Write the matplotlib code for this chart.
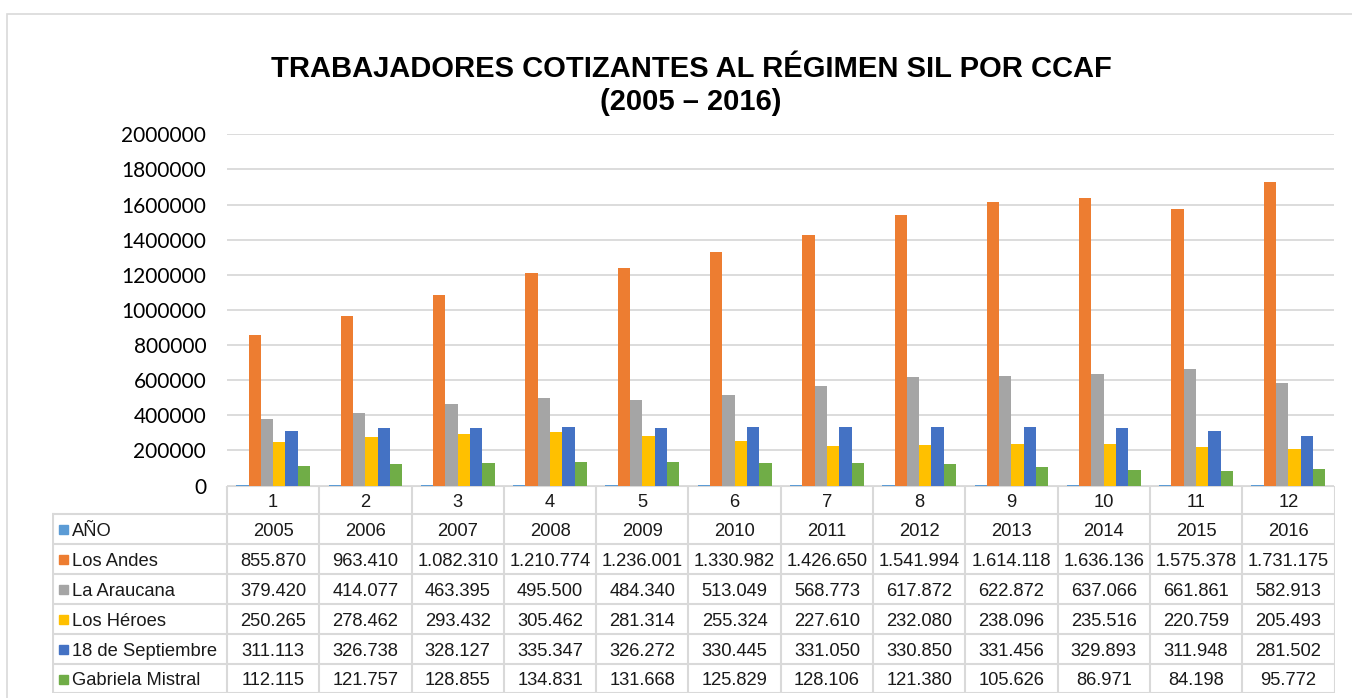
import numpy as np
import matplotlib.pyplot as plt
from matplotlib.patches import Rectangle
from matplotlib.lines import Line2D

categories = [str(i) for i in range(1, 13)]
anio = [2005, 2006, 2007, 2008, 2009, 2010, 2011, 2012, 2013, 2014, 2015, 2016]
los_andes = [855870, 963410, 1082310, 1210774, 1236001, 1330982, 1426650, 1541994, 1614118, 1636136, 1575378, 1731175]
la_araucana = [379420, 414077, 463395, 495500, 484340, 513049, 568773, 617872, 622872, 637066, 661861, 582913]
los_heroes = [250265, 278462, 293432, 305462, 281314, 255324, 227610, 232080, 238096, 235516, 220759, 205493]
septiembre = [311113, 326738, 328127, 335347, 326272, 330445, 331050, 330850, 331456, 329893, 311948, 281502]
gabriela = [112115, 121757, 128855, 134831, 131668, 125829, 128106, 121380, 105626, 86971, 84198, 95772]

series_names = ["AÑO", "Los Andes", "La Araucana", "Los Héroes", "18 de Septiembre", "Gabriela Mistral"]
series_vals = [anio, los_andes, la_araucana, los_heroes, septiembre, gabriela]
colors = ["#5B9BD5", "#ED7D31", "#A5A5A5", "#FFC000", "#4472C4", "#70AD47"]

W, H = 1352, 698
fig = plt.figure(figsize=(W / 100, H / 100), dpi=100)


def fbox(x0, y0, x1, y1):
    # pixel box (top-left origin) -> figure fraction [l, b, w, h]
    return [x0 / W, 1 - y1 / H, (x1 - x0) / W, (y1 - y0) / H]


# outer chart border
fig.add_artist(Rectangle((7 / W, -0.05), 1.1, 1 - 13.5 / H + 0.05, transform=fig.transFigure,
                         fill=False, edgecolor="#d9d9d9", lw=1.2))

fig.text(691 / W, 1 - 69 / H, "TRABAJADORES COTIZANTES AL RÉGIMEN SIL POR CCAF",
         ha="center", va="center", fontsize=21, fontweight="bold", family="Liberation Sans")
fig.text(691 / W, 1 - 102 / H, "(2005 – 2016)",
         ha="center", va="center", fontsize=21, fontweight="bold", family="Liberation Sans")

plot_left, plot_right, plot_top, plot_bottom = 227, 1334.5, 134.3, 485.5
ax = fig.add_axes(fbox(plot_left, plot_top, plot_right, plot_bottom))

n = len(series_names)
x = np.arange(len(categories)) + 0.5
bw = 1 / (n + 1.5)
for i, (vals, c) in enumerate(zip(series_vals, colors)):
    ax.bar(x + (i - (n - 1) / 2) * bw, vals, width=bw, color=c, zorder=2)

ax.set_xlim(0, 12)
ax.set_ylim(0, 2000000)
ax.set_yticks(np.arange(0, 2000001, 200000))
ax.set_yticklabels([str(v) for v in range(0, 2000001, 200000)], family="Lato", fontsize=15)
ax.tick_params(axis="y", length=0, pad=15)
ax.set_xticks([])
ax.grid(axis="y", color="#d9d9d9", lw=1.3, zorder=0)
for s in ax.spines.values():
    s.set_visible(False)

# data table under the plot
tab_left, tab_bottom = 52.5, 693.3
col_w = (plot_right - plot_left) / 12
lab_w = (plot_left - tab_left) / col_w
tax = fig.add_axes(fbox(tab_left, plot_bottom, plot_right, tab_bottom))
tax.set_xlim(-lab_w, 12)
tax.set_ylim(tab_bottom, plot_bottom)
tax.axis("off")

rows = [plot_bottom, 514] + [514 + 29.9 * k for k in range(1, 7)]
grid_c = "#d9d9d9"
lw = 1.5
tax.add_line(Line2D([0, 12], [rows[0], rows[0]], color=grid_c, lw=lw))
for yb in rows[1:]:
    tax.add_line(Line2D([-lab_w, 12], [yb, yb], color=grid_c, lw=lw))
tax.add_line(Line2D([-lab_w, -lab_w], [rows[1], rows[-1]], color=grid_c, lw=lw))
for k in range(13):
    tax.add_line(Line2D([k, k], [rows[0], rows[-1]], color=grid_c, lw=lw))

tfont = dict(family="Liberation Sans", fontsize=13.2, color="#1a1a1a")
for k, cat in enumerate(categories):
    tax.text(k + 0.5, (rows[0] + rows[1]) / 2 + 2.5, cat, ha="center", va="center", **tfont)


def fmt(v):
    return f"{v:,}".replace(",", ".")


for r, (name, vals, c) in enumerate(zip(series_names, series_vals, colors)):
    yc = (rows[r + 1] + rows[r + 2]) / 2 + 2.5
    key_x = -lab_w + 6 / col_w
    tax.add_patch(Rectangle((key_x, yc - 6), 9 / col_w, 9, color=c))
    tax.text(-lab_w + 19.5 / col_w, yc, name, ha="left", va="center", **tfont)
    for k, v in enumerate(vals):
        label = str(v) if r == 0 else fmt(v)
        tax.text(k + 0.5, yc, label, ha="center", va="center", **tfont)

fig.savefig("out.png", dpi=100)
